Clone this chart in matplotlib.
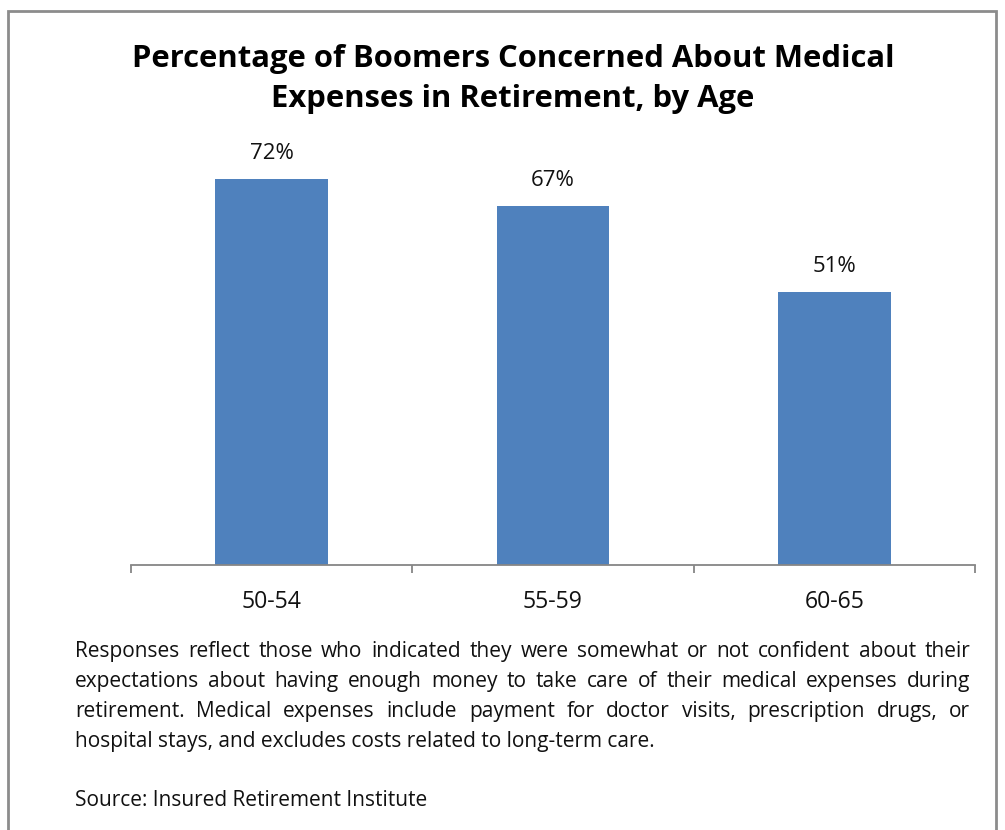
import matplotlib.pyplot as plt
from matplotlib.patches import Rectangle

plt.rcParams['font.family'] = ['Open Sans', 'DejaVu Sans']

ages = ['50-54', '55-59', '60-65']
pct = [72, 67, 51]

title_lines = ['Percentage of Boomers Concerned About Medical',
               'Expenses in Retirement, by Age']
note_lines = [
    'Responses reflect those who indicated they were somewhat or not confident about their',
    'expectations about having enough money to take care of their medical expenses during',
    'retirement. Medical expenses include payment for doctor visits, prescription drugs, or',
    'hospital stays, and excludes costs related to long-term care.',
]
source = 'Source: Insured Retirement Institute'

W, H = 1005, 830
fig = plt.figure(figsize=(W / 100, H / 100), dpi=100)
fig.canvas.draw()
r = fig.canvas.get_renderer()


def fit_size(text, width_px, **kw):
    # font size that makes the text about width_px wide
    t = fig.text(0, 0, text, fontsize=10, **kw)
    w = t.get_window_extent(r).width
    t.remove()
    return 10 * width_px / w


def fy(py):
    return 1 - py / H


# outer frame (bottom edge runs off the image)
fig.patches.append(Rectangle((8 / W, -0.01), (996 - 8) / W, 1 - 11 / H + 0.01,
                             transform=fig.transFigure, fill=False,
                             edgecolor='#8c8c8c', linewidth=2))

ax = fig.add_axes([131 / W, fy(565), (975 - 131) / W, (565 - 136) / H])
x = range(len(ages))
ax.bar(x, pct, width=0.4, color='#4f81bd')
ax.set_xlim(-0.5, 2.5)
ax.set_ylim(0, 80)

fs_pct = fit_size('72%', 44)
for i, v in enumerate(pct):
    ax.annotate(f'{v}%', (i, v), xytext=(0, 20 * 0.72), textcoords='offset points',
                ha='center', va='baseline', fontsize=fs_pct, color='#111111')

for s in ['top', 'right', 'left']:
    ax.spines[s].set_visible(False)
ax.spines['bottom'].set_color('#868686')
ax.spines['bottom'].set_linewidth(1.3)
ax.set_yticks([])
ax.set_xticks([-0.5, 0.5, 1.5, 2.5])
ax.set_xticklabels([])
ax.tick_params(axis='x', length=6, color='#868686', width=1.3)

fs_cat = fit_size('50-54', 60)
for i, a in enumerate(ages):
    ax.annotate(a, (i, 0), xycoords=('data', 'axes fraction'),
                xytext=(0, -43 * 0.72), textcoords='offset points',
                ha='center', va='baseline', fontsize=fs_cat, color='#111111')

fs_title = fit_size(title_lines[0], 767, fontweight='bold')
for line, base in zip(title_lines, [67, 107]):
    fig.text(513 / W, fy(base), line, ha='center', va='baseline',
             fontsize=fs_title, fontweight='bold', color='#000000')

# justified footnote
fs = fit_size(source, 352)
left, right = 75, 970
for k, line in enumerate(note_lines):
    y = fy(657 + 30 * k)
    if k == len(note_lines) - 1:
        fig.text(left / W, y, line, ha='left', va='baseline', fontsize=fs,
                 color='#111111')
        continue
    words = line.split(' ')
    texts = [fig.text(0, y, w_, ha='left', va='baseline', fontsize=fs,
                      color='#111111') for w_ in words]
    widths = [t.get_window_extent(r).width for t in texts]
    gap = (right - left - sum(widths)) / (len(words) - 1)
    xpos = left
    for t, wd in zip(texts, widths):
        t.set_x(xpos / W)
        xpos += wd + gap

fig.text(left / W, fy(806), source, ha='left', va='baseline', fontsize=fs,
         color='#111111')

fig.savefig('out.png', dpi=100)
